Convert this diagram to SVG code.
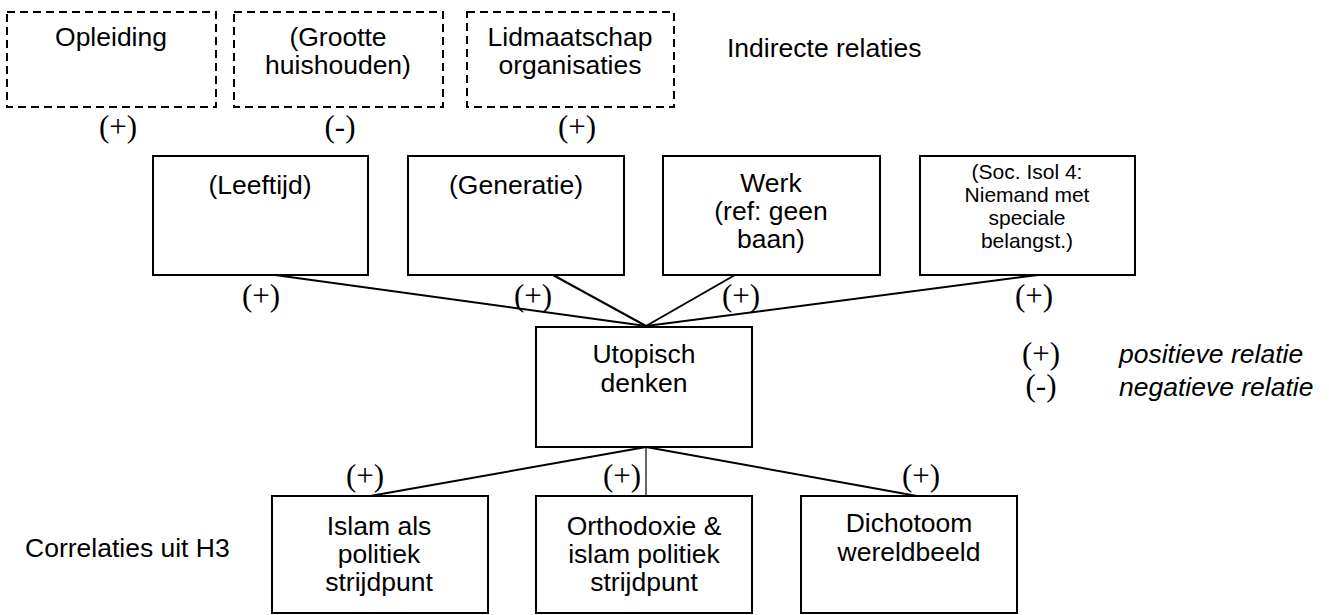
<svg xmlns="http://www.w3.org/2000/svg" width="1329" height="615" viewBox="0 0 1329 615">
<style>
.box{fill:#fff;stroke:#000;stroke-width:2}
.dash{fill:#fff;stroke:#000;stroke-width:2;stroke-dasharray:8 5}
.t{font-family:"Liberation Sans",Arial,sans-serif;font-size:26.5px;fill:#000;text-anchor:middle}
.s{font-family:"Liberation Sans",Arial,sans-serif;font-size:21px;fill:#000;text-anchor:middle}
.l{font-family:"Liberation Serif","Times New Roman",serif;font-size:31px;fill:#000;text-anchor:middle}
.c{stroke:#000;stroke-width:2;fill:none}
.plain{font-family:"Liberation Sans",Arial,sans-serif;font-size:26.5px;fill:#000}
.it{font-family:"Liberation Sans",Arial,sans-serif;font-size:26.5px;fill:#000;font-style:italic}
</style>
<g id="connectors">
<line class="c" x1="275" y1="275" x2="646" y2="326"/>
<line class="c" x1="553" y1="275" x2="646" y2="326"/>
<line class="c" x1="735" y1="275" x2="646" y2="326"/>
<line class="c" x1="1038" y1="275" x2="646" y2="326"/>
<line class="c" x1="646" y1="447" x2="370" y2="496"/>
<line class="c" x1="646" y1="447" x2="646" y2="496" style="stroke-width:1.2"/>
<line class="c" x1="646" y1="447" x2="917" y2="496"/>
</g>
<g id="opleiding"><rect class="dash" x="7" y="12" width="209" height="95"/><text class="t" x="111" y="46">Opleiding</text></g>
<g id="grootte"><rect class="dash" x="234" y="12" width="209" height="95"/><text class="t" x="338" y="46">(Grootte</text><text class="t" x="338" y="74">huishouden)</text></g>
<g id="lidmaatschap"><rect class="dash" x="467" y="12" width="207" height="95"/><text class="t" x="570" y="46">Lidmaatschap</text><text class="t" x="570" y="74">organisaties</text></g>
<g id="lbl-top">
<text class="l" x="118" y="137">(+)</text>
<text class="l" x="340" y="137">(-)</text>
<text class="l" x="577" y="137">(+)</text>
</g>
<text class="plain" x="727" y="57">Indirecte relaties</text>
<g id="leeftijd"><rect class="box" x="153" y="156" width="215" height="119"/><text class="t" x="260" y="194">(Leeftijd)</text></g>
<g id="generatie"><rect class="box" x="408" y="156" width="216" height="119"/><text class="t" x="516" y="194">(Generatie)</text></g>
<g id="werk"><rect class="box" x="663" y="156" width="217" height="119"/><text class="t" x="771" y="192">Werk</text><text class="t" x="771" y="220">(ref: geen</text><text class="t" x="771" y="248">baan)</text></g>
<g id="socisol"><rect class="box" x="920" y="156" width="215" height="119"/><text class="s" x="1027" y="179">(Soc. Isol 4:</text><text class="s" x="1027" y="202">Niemand met</text><text class="s" x="1027" y="225">speciale</text><text class="s" x="1027" y="248">belangst.)</text></g>
<g id="lbl-mid">
<text class="l" x="261" y="306">(+)</text>
<text class="l" x="533" y="306">(+)</text>
<text class="l" x="741" y="306">(+)</text>
<text class="l" x="1034" y="306">(+)</text>
</g>
<g id="utopisch"><rect class="box" x="536" y="327" width="216" height="120"/><text class="t" x="644" y="363">Utopisch</text><text class="t" x="644" y="392">denken</text></g>
<g id="legend">
<text class="l" x="1041" y="364">(+)</text><text class="it" x="1119" y="363">positieve relatie</text>
<text class="l" x="1041" y="396">(-)</text><text class="it" x="1119" y="396">negatieve relatie</text>
</g>
<g id="lbl-bot">
<text class="l" x="365" y="486">(+)</text>
<text class="l" x="622" y="486">(+)</text>
<text class="l" x="921" y="486">(+)</text>
</g>
<text class="plain" x="25" y="557">Correlaties uit H3</text>
<g id="islam"><rect class="box" x="272" y="496" width="216" height="117"/><text class="t" x="379" y="535">Islam als</text><text class="t" x="379" y="563">politiek</text><text class="t" x="379" y="591">strijdpunt</text></g>
<g id="orthodoxie"><rect class="box" x="536" y="496" width="216" height="117"/><text class="t" x="644" y="535">Orthodoxie &amp;</text><text class="t" x="644" y="563">islam politiek</text><text class="t" x="644" y="591">strijdpunt</text></g>
<g id="dichotoom"><rect class="box" x="801" y="496" width="216" height="117"/><text class="t" x="909" y="532">Dichotoom</text><text class="t" x="909" y="561">wereldbeeld</text></g>
</svg>
